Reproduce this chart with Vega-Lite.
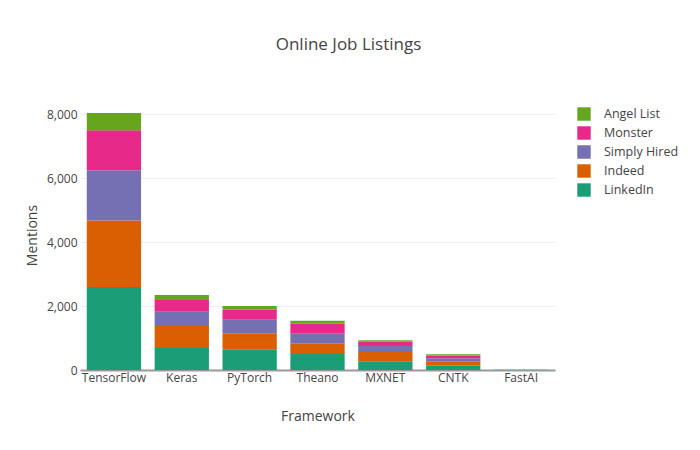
{
  "$schema": "https://vega.github.io/schema/vega-lite/v6.json",
  "autosize": {"type": "none"},
  "padding": {"left": 80, "top": 100, "right": 145, "bottom": 80},
  "width": 475,
  "height": 270,
  "title": {
    "text": "Online Job Listings",
    "fontSize": 17,
    "fontWeight": "normal",
    "font": "Open Sans",
    "color": "#444",
    "dx": 31,
    "offset": 46
  },
  "data": {
    "values": [
      {"framework": "TensorFlow", "source": "LinkedIn", "mentions": 2600},
      {"framework": "TensorFlow", "source": "Indeed", "mentions": 2076},
      {"framework": "TensorFlow", "source": "Simply Hired", "mentions": 1573},
      {"framework": "TensorFlow", "source": "Monster", "mentions": 1258},
      {"framework": "TensorFlow", "source": "Angel List", "mentions": 535},
      {"framework": "Keras", "source": "LinkedIn", "mentions": 692},
      {"framework": "Keras", "source": "Indeed", "mentions": 682},
      {"framework": "Keras", "source": "Simply Hired", "mentions": 450},
      {"framework": "Keras", "source": "Monster", "mentions": 367},
      {"framework": "Keras", "source": "Angel List", "mentions": 158},
      {"framework": "PyTorch", "source": "LinkedIn", "mentions": 650},
      {"framework": "PyTorch", "source": "Indeed", "mentions": 503},
      {"framework": "PyTorch", "source": "Simply Hired", "mentions": 420},
      {"framework": "PyTorch", "source": "Monster", "mentions": 314},
      {"framework": "PyTorch", "source": "Angel List", "mentions": 116},
      {"framework": "Theano", "source": "LinkedIn", "mentions": 503},
      {"framework": "Theano", "source": "Indeed", "mentions": 336},
      {"framework": "Theano", "source": "Simply Hired", "mentions": 293},
      {"framework": "Theano", "source": "Monster", "mentions": 315},
      {"framework": "Theano", "source": "Angel List", "mentions": 94},
      {"framework": "MXNET", "source": "LinkedIn", "mentions": 272},
      {"framework": "MXNET", "source": "Indeed", "mentions": 294},
      {"framework": "MXNET", "source": "Simply Hired", "mentions": 189},
      {"framework": "MXNET", "source": "Monster", "mentions": 136},
      {"framework": "MXNET", "source": "Angel List", "mentions": 42},
      {"framework": "CNTK", "source": "LinkedIn", "mentions": 136},
      {"framework": "CNTK", "source": "Indeed", "mentions": 136},
      {"framework": "CNTK", "source": "Simply Hired", "mentions": 95},
      {"framework": "CNTK", "source": "Monster", "mentions": 84},
      {"framework": "CNTK", "source": "Angel List", "mentions": 42},
      {"framework": "FastAI", "source": "LinkedIn", "mentions": 5},
      {"framework": "FastAI", "source": "Indeed", "mentions": 3},
      {"framework": "FastAI", "source": "Simply Hired", "mentions": 1},
      {"framework": "FastAI", "source": "Monster", "mentions": 1},
      {"framework": "FastAI", "source": "Angel List", "mentions": 1}
    ]
  },
  "transform": [
    {
      "calculate": "indexof(['LinkedIn', 'Indeed', 'Simply Hired', 'Monster', 'Angel List'], datum.source)",
      "as": "stack_order"
    }
  ],
  "mark": {"type": "bar"},
  "encoding": {
    "x": {
      "field": "framework",
      "type": "nominal",
      "sort": null,
      "title": "Framework",
      "scale": {"paddingInner": 0.2, "paddingOuter": 0.1},
      "axis": {
        "labelAngle": 0,
        "ticks": false,
        "labelPadding": 2,
        "domainColor": "#999",
        "domainWidth": 2,
        "titlePadding": 26
      }
    },
    "y": {
      "field": "mentions",
      "type": "quantitative",
      "aggregate": "sum",
      "title": "Mentions",
      "scale": {"domain": [0, 8450], "nice": false},
      "axis": {
        "values": [0, 2000, 4000, 6000, 8000],
        "format": ",d",
        "ticks": false,
        "domain": false,
        "labelPadding": 3,
        "gridColor": "#eee",
        "titlePadding": 7
      }
    },
    "order": {"field": "stack_order", "type": "quantitative", "sort": "ascending"},
    "color": {
      "field": "source",
      "type": "nominal",
      "scale": {
        "domain": ["Angel List", "Monster", "Simply Hired", "Indeed", "LinkedIn"],
        "range": ["#66a61e", "#e7298a", "#7570b3", "#d95f02", "#1b9e77"]
      },
      "legend": {
        "title": null,
        "orient": "none",
        "legendX": 497,
        "legendY": 7,
        "symbolType": "square",
        "symbolSize": 180,
        "symbolStrokeWidth": 0,
        "rowPadding": 5,
        "labelFontSize": 12.5,
        "labelOffset": 13,
        "padding": 0
      }
    }
  },
  "config": {
    "font": "Open Sans",
    "view": {"stroke": null},
    "axis": {
      "labelFont": "Open Sans",
      "labelFontSize": 12,
      "labelColor": "#444",
      "titleFont": "Open Sans",
      "titleFontSize": 14,
      "titleFontWeight": "normal",
      "titleColor": "#444"
    },
    "legend": {"labelFont": "Open Sans", "labelColor": "#444"}
  }
}
